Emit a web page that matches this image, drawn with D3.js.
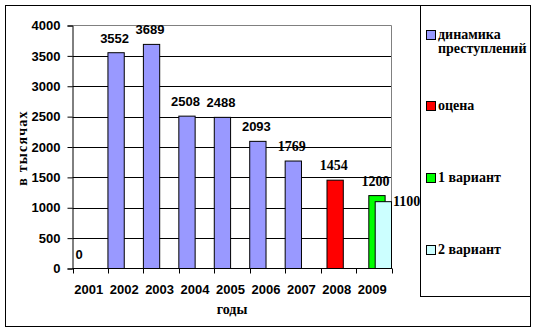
<!DOCTYPE html>
<html><head><meta charset="utf-8">
<script src="https://cdn.jsdelivr.net/npm/d3@7"></script>
<style>body{margin:0;background:#fff}svg{display:block}
.serif{font-family:"Liberation Serif","DejaVu Serif",serif;font-weight:bold}
.sans{font-family:"Liberation Sans",Arial,sans-serif;font-weight:bold}
</style>
</head><body><svg id="c" width="537" height="332"></svg>
<script>
const years = ["2001","2002","2003","2004","2005","2006","2007","2008","2009"];
const dynamics = [0,3552,3689,2508,2488,2093,1769,null,null];
const estimate = [null,null,null,null,null,null,null,1454,null];
const variant1 = [null,null,null,null,null,null,null,null,1200];
const variant2 = [null,null,null,null,null,null,null,null,1100];
const seriesNames = ["динамика преступлений","оцена","1 вариант","2 вариант"];
const seriesColors = ["#9999FF","#FF0000","#00FF00","#CCFFFF"];
const yTicks = [0,500,1000,1500,2000,2500,3000,3500,4000];
const yTitle = "в тысячах";
const xTitle = "годы";

const series = [dynamics, estimate, variant1, variant2];

const svg = d3.select("#c");
svg.append("rect").attr("x",5.5).attr("y",5.5).attr("width",525).attr("height",321)
  .attr("fill","#fff").attr("stroke","#000");

const plot = {l:72.5, r:391.5, t:25.5, b:268.5};
const x = d3.scaleBand().domain(years).range([plot.l, plot.r]).padding(0);
const y = d3.scaleLinear().domain([0,4000]).range([plot.b, plot.t]);
const bw = x.bandwidth();
const barW = bw*0.46;
const off = d3.scaleLinear().domain([0,series.length-1]).range([0, bw-barW]);

// gridlines
svg.append("g").selectAll("line").data(yTicks.filter(t=>t>0 && t<4000)).join("line")
  .attr("x1",plot.l).attr("x2",plot.r).attr("y1",d=>Math.round(y(d))+0.5).attr("y2",d=>Math.round(y(d))+0.5)
  .attr("stroke","#000");
// plot border (gray top/right)
svg.append("path").attr("d",`M${plot.l},${plot.t}H${plot.r}V${plot.b}`).attr("fill","none").attr("stroke","#808080");

// bars
const barsData = [];
series.forEach((s,si)=>s.forEach((v,i)=>{ if(v!==null) barsData.push({si, i, v}); }));
svg.append("g").selectAll("rect").data(barsData.filter(d=>d.v>0)).join("rect")
  .attr("x",d=>x(years[d.i])+off(d.si)).attr("width",barW)
  .attr("y",d=>y(d.v)).attr("height",d=>y(0)-y(d.v))
  .attr("fill",d=>seriesColors[d.si]).attr("stroke","#000").attr("stroke-width",1);

// axes
const yAxis = d3.axisLeft(y).tickValues(yTicks).tickSize(5).tickPadding(7).tickFormat(d3.format("d"));
const gy = svg.append("g").attr("transform",`translate(${plot.l},0)`).call(yAxis);
gy.attr("font-family",null).attr("font-size",null);
gy.select(".domain").attr("stroke","#000");
gy.selectAll("text").attr("class","sans").attr("font-size",13).attr("fill","#000");

const gx = svg.append("g").attr("transform",`translate(0,${plot.b})`);
gx.append("line").attr("x1",plot.l).attr("x2",plot.r+0.5).attr("stroke","#000");
gx.selectAll("line.t").data(years.concat(["end"])).join("line").attr("class","t")
  .attr("x1",(d,i)=>Math.round(plot.l+i*bw)+0.5).attr("x2",(d,i)=>Math.round(plot.l+i*bw)+0.5)
  .attr("y1",0).attr("y2",5).attr("stroke","#000");
gx.selectAll("text").data(years).join("text").attr("class","sans")
  .attr("x",d=>x(d)+bw/2-1.5).attr("y",25).attr("text-anchor","middle")
  .attr("font-size",13).text(d=>d);

// data labels
svg.append("g").selectAll("text").data(barsData).join("text")
  .attr("class",d=>d.i>=6?"serif":"sans")
  .attr("x",d=> d.si===3 ? x(years[d.i])+off(d.si)+barW+1.5 : x(years[d.i])+off(d.si)+barW/2-1.5)
  .attr("y",d=> d.si===3 ? y(d.v)+4.5 : y(d.v)-10)
  .attr("text-anchor",d=>d.si===3?"start":"middle")
  .attr("font-size",d=>d.i>=6?14:13).text(d=>d.v);

// titles
svg.append("text").attr("class","serif").attr("x",(plot.l+plot.r)/2).attr("y",314).attr("text-anchor","middle")
  .attr("font-size",14).text(xTitle);
svg.append("text").attr("class","serif").attr("transform",`translate(27,${(plot.t+plot.b)/2+1}) rotate(-90)`).attr("text-anchor","middle")
  .attr("font-size",14).attr("letter-spacing",1.2).text(yTitle);

// legend
svg.append("rect").attr("x",420.5).attr("y",5.5).attr("width",110).attr("height",291)
  .attr("fill","#fff").attr("stroke","#000");
const ly = d3.scaleLinear().domain([0,series.length-1]).range([29.5,245]);
const lg = svg.append("g").selectAll("g").data(seriesNames).join("g");
lg.append("rect").attr("x",426.5).attr("y",(d,i)=>Math.round(ly(i))+0.5).attr("width",9).attr("height",9)
  .attr("fill",(d,i)=>seriesColors[i]).attr("stroke","#000");
lg.append("text").attr("class","serif").attr("font-size",14)
  .each(function(d,i){
    const words = i===0 ? d.split(" ") : [d];
    d3.select(this).selectAll("tspan").data(words).join("tspan")
      .attr("x",438).attr("y",(w,j)=>Math.round(ly(i))+9+j*13.5).text(w=>w);
  });
</script></body></html>
